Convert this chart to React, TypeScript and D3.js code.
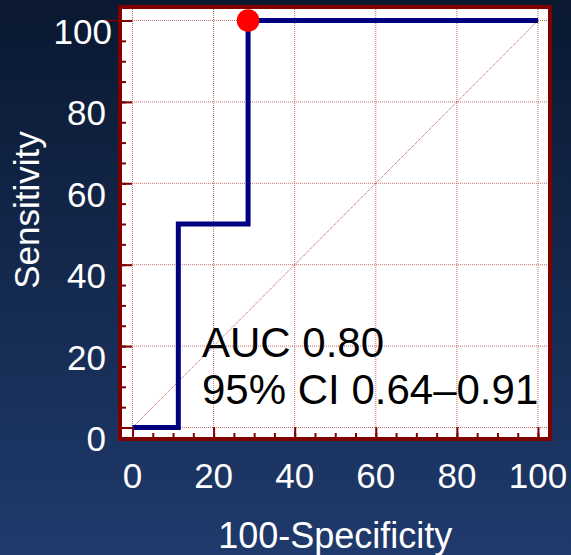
import React, { useEffect, useRef } from 'react';
import * as d3 from 'd3';

// ROC curve (100-Specificity vs Sensitivity)
const fprValues = [0, 11.3, 11.3, 28.5, 28.5, 100];
const tprValues = [0, 0, 50, 50, 100, 100];
const cutoffPoint = { x: 28.5, y: 100 };
const majorTicks = [0, 20, 40, 60, 80, 100];
const minorTicks = d3.range(0, 101, 5);
const annotation = ['AUC 0.80', '95% CI 0.64\u20130.91'];
const xTitle = '100-Specificity';
const yTitle = 'Sensitivity';

const W = 571;
const H = 555;
const FONT = '"Liberation Sans", Arial, sans-serif';

const App = () => {
  const ref = useRef<SVGSVGElement>(null);

  useEffect(() => {
    document.body.style.margin = '0';
    const svg = d3.select(ref.current);
    svg.selectAll('*').remove();

    // frame (inner edge of border) and data range
    const frame = { left: 122, top: 9, right: 548, bottom: 437 };
    const xScale = d3.scaleLinear().domain([0, 100]).range([132.5, 538]);
    const yScale = d3.scaleLinear().domain([0, 100]).range([427.5, 20.5]);

    // background gradient
    const defs = svg.append('defs');
    const grad = defs.append('linearGradient')
      .attr('id', 'bg').attr('x1', 0).attr('y1', 0).attr('x2', 0).attr('y2', 1);
    grad.append('stop').attr('offset', '0%').attr('stop-color', '#0a1830');
    grad.append('stop').attr('offset', '100%').attr('stop-color', '#1f3a6c');
    svg.append('rect').attr('width', W).attr('height', H).attr('fill', 'url(#bg)');

    // plot area
    svg.append('rect')
      .attr('x', frame.left).attr('y', frame.top)
      .attr('width', frame.right - frame.left).attr('height', frame.bottom - frame.top)
      .attr('fill', '#ffffff');

    // grid
    const grid = svg.append('g')
      .attr('stroke', '#b83a3a').attr('stroke-width', 1)
      .attr('stroke-dasharray', '1,1').attr('opacity', 0.75);
    grid.selectAll('.gx').data(majorTicks).join('line')
      .attr('x1', d => xScale(d)).attr('x2', d => xScale(d))
      .attr('y1', frame.top).attr('y2', frame.bottom);
    grid.selectAll('.gy').data(majorTicks).join('line')
      .attr('class', 'gy')
      .attr('y1', d => yScale(d)).attr('y2', d => yScale(d))
      .attr('x1', frame.left).attr('x2', frame.right);

    // reference diagonal
    svg.append('line')
      .attr('x1', xScale(0)).attr('y1', yScale(0))
      .attr('x2', xScale(100)).attr('y2', yScale(100))
      .attr('stroke', '#a02020').attr('stroke-width', 1)
      .attr('stroke-dasharray', '1,1').attr('opacity', 0.8);

    // annotation text
    svg.append('g').selectAll('text').data(annotation).join('text')
      .attr('x', 202)
      .attr('y', (d, i) => 357 + i * 46.5)
      .attr('font-family', FONT).attr('font-size', 42)
      .attr('fill', '#000000')
      .text(d => d);

    // ROC line
    const pts = fprValues.map((x, i) => ({ x, y: tprValues[i] }));
    const line = d3.line<{ x: number; y: number }>()
      .x(d => xScale(d.x))
      .y(d => yScale(d.y));
    svg.append('path')
      .datum(pts)
      .attr('fill', 'none')
      .attr('stroke', '#000080')
      .attr('stroke-width', 5)
      .attr('stroke-linejoin', 'miter')
      .attr('d', line);

    // cutoff point
    svg.append('circle')
      .attr('cx', xScale(cutoffPoint.x)).attr('cy', yScale(cutoffPoint.y))
      .attr('r', 11.3).attr('fill', '#ff0000');

    // ticks (inward)
    const tickColor = '#800000';
    const leftAxis = svg.append('g').attr('transform', `translate(${frame.left},0)`);
    leftAxis.call(d3.axisRight(yScale).tickValues(minorTicks).tickSize(4).tickFormat(() => ''));
    leftAxis.append('g')
      .call(d3.axisRight(yScale).tickValues(majorTicks).tickSize(10).tickFormat(() => ''));
    const bottomAxis = svg.append('g').attr('transform', `translate(0,${frame.bottom})`);
    bottomAxis.call(d3.axisTop(xScale).tickValues(minorTicks).tickSize(4).tickFormat(() => ''));
    bottomAxis.append('g')
      .call(d3.axisTop(xScale).tickValues(majorTicks).tickSize(10).tickFormat(() => ''));
    svg.selectAll('.domain').remove();
    svg.selectAll('.tick line').attr('stroke', tickColor).attr('stroke-width', 2);

    // small outward tick at top left
    svg.append('line')
      .attr('x1', 105).attr('x2', frame.left)
      .attr('y1', yScale(100)).attr('y2', yScale(100))
      .attr('stroke', tickColor).attr('stroke-width', 1.5);

    // frame border
    svg.append('rect')
      .attr('x', frame.left - 2).attr('y', frame.top - 2)
      .attr('width', frame.right - frame.left + 4).attr('height', frame.bottom - frame.top + 4)
      .attr('fill', 'none').attr('stroke', tickColor).attr('stroke-width', 4);

    // tick labels
    svg.append('g').selectAll('text').data(majorTicks).join('text')
      .attr('x', d => (d === 100 ? 112 : 106))
      .attr('y', d => yScale(d) + 23.5)
      .attr('text-anchor', 'end')
      .attr('font-family', FONT).attr('font-size', 35).attr('fill', '#ffffff')
      .text(d => d);
    svg.append('g').selectAll('text').data(majorTicks).join('text')
      .attr('x', d => xScale(d))
      .attr('y', 488)
      .attr('text-anchor', 'middle')
      .attr('font-family', FONT).attr('font-size', 35).attr('fill', '#ffffff')
      .text(d => d);

    // axis titles
    svg.append('text')
      .attr('x', (xScale(0) + xScale(100)) / 2).attr('y', 548)
      .attr('text-anchor', 'middle')
      .attr('font-family', FONT).attr('font-size', 36).attr('fill', '#ffffff')
      .text(xTitle);
    svg.append('text')
      .attr('transform', 'translate(39,210) rotate(-90)')
      .attr('text-anchor', 'middle')
      .attr('font-family', FONT).attr('font-size', 35).attr('fill', '#ffffff')
      .text(yTitle);
  }, []);

  return (
    <div>
      <svg ref={ref} width={W} height={H} style={{ display: 'block' }}></svg>
    </div>
  );
};

export default App;
